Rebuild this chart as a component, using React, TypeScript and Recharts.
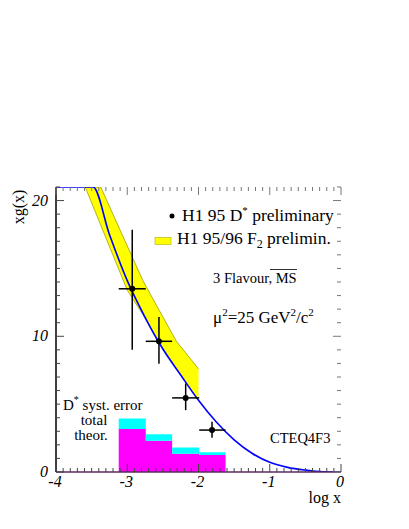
import { ComposedChart, Line, Area, Scatter, ErrorBar, XAxis, YAxis } from 'recharts'

const SERIF = '"Liberation Serif", "DejaVu Serif", serif'

// CTEQ4F3 gluon curve (log x, xg)
const curveLogX = [-4, -3.48, -3.25, -3.0, -2.75, -2.5, -2.25, -2.0, -1.75, -1.5, -1.25, -1.0, -0.75, -0.5, -0.25, 0]
const curveXg = [21, 21, 17.5, 14.1, 11.4, 9.06, 7.15, 5.28, 3.68, 2.37, 1.38, 0.71, 0.34, 0.14, 0.02, 0]

// H1 95/96 F2 band
const bandLogX = [-3.59, -3.373, -3.0, -2.78, -2.55, -2.31, -2.0]
const bandLow = [21, 18.2, 13.4, 11.6, 9.5, 7.6, 5.3]
const bandHigh = [21, 21, 16.66, 14.1, 11.9, 9.63, 7.6]

// D* syst. error histogram
const binEdges = [-3.12, -2.74, -2.37, -1.99, -1.62]
const binTheor = [3.16, 2.3, 1.35, 1.26]
const binTotal = [3.95, 2.79, 1.8, 1.46]

// H1 95 D* points
const pointLogX = [-2.93, -2.555, -2.18, -1.81]
const pointXg = [13.5, 9.63, 5.46, 3.09]
const pointXgLow = [9.0, 7.97, 4.56, 2.52]
const pointXgHigh = [17.85, 11.42, 6.53, 3.7]

const xMajor = [-4, -3, -2, -1, 0]
const yMajor = [0, 10, 20]
const xTicks = Array.from({ length: 41 }, (_, i) => -4 + i / 10)
const yTicks = Array.from({ length: 22 }, (_, i) => i)

const PLOT_TOP = 187
const PLOT_LEFT = 56
const PLOT_RIGHT = 341
const XH = 30
const YW = 40

const curve = curveLogX.map((x, i) => ({ x, y: curveXg[i] }))
const band = bandLogX.map((x, i) => ({ x, r: [bandLow[i], bandHigh[i]] }))
const hist = binEdges.map((x, i) => {
  const k = Math.min(i, binTheor.length - 1)
  return { x, m: binTheor[k], c: [binTheor[k], binTotal[k]] }
})
const points = pointLogX.map((x, i) => ({
  x,
  y: pointXg[i],
  ex: [x - binEdges[i], binEdges[i + 1] - x],
  ey: [pointXg[i] - pointXgLow[i], pointXgHigh[i] - pointXg[i]],
}))

const isMajor = (v: number, majors: number[]) => majors.some(m => Math.abs(m - v) < 1e-6)

function XTick(props: any) {
  const { x, y, payload } = props
  const v = payload.value
  const major = isMajor(v, xMajor)
  const len = major ? 8 : 4
  return (
    <g>
      <line x1={x} x2={x} y1={y} y2={y - len} stroke="#444" strokeWidth={1} />
      <line x1={x} x2={x} y1={PLOT_TOP} y2={PLOT_TOP + len} stroke="#777" strokeWidth={1} />
      {major && (
        <text x={x - 1} y={y + 15} textAnchor="middle" fontFamily={SERIF} fontStyle="italic" fontSize={16} fill="#000">
          {String(Math.round(v))}
        </text>
      )}
    </g>
  )
}

function YTick(props: any) {
  const { x, y, payload } = props
  const v = payload.value
  const major = isMajor(v, yMajor)
  const len = major ? 8 : 4
  return (
    <g>
      <line x1={x} x2={x + len} y1={y} y2={y} stroke="#444" strokeWidth={1} />
      <line x1={PLOT_RIGHT} x2={PLOT_RIGHT - len} y1={y} y2={y} stroke="#777" strokeWidth={1} />
      {major && (
        <text x={x - 8} y={y + 5} textAnchor="end" fontFamily={SERIF} fontStyle="italic" fontSize={16} fill="#000">
          {String(v)}
        </text>
      )}
    </g>
  )
}

function Dot(props: any) {
  return <circle cx={props.cx} cy={props.cy} r={3} fill="#000" />
}

function Labels() {
  const t = { fontFamily: SERIF, fill: '#000' }
  return (
    <svg width={409} height={529} style={{ position: 'absolute', left: 0, top: 0, pointerEvents: 'none' }}>
      <text {...t} fontSize={16} x={24} y={207} transform="rotate(-90 24 207)" textAnchor="middle">xg(x)</text>
      <text {...t} fontSize={16} x={PLOT_RIGHT} y={503} textAnchor="end">log x</text>

      <circle cx={172} cy={216} r={2.5} fill="#000" />
      <text {...t} fontSize={17.5} x={182} y={221}>
        H1 95 D<tspan fontSize={11} dy={-7}>*</tspan><tspan dy={7}> preliminary</tspan>
      </text>
      <rect x={155} y={237.5} width={16} height={7} fill="#ffff00" stroke="#b0b000" strokeWidth={0.6} />
      <text {...t} fontSize={17.5} x={177} y={244}>
        H1 95/96 F<tspan fontSize={12} dy={4}>2</tspan><tspan dy={-4}> prelimin.</tspan>
      </text>

      <text {...t} fontSize={14.5} x={213} y={283}>3 Flavour, MS</text>
      <line x1={270} x2={297} y1={269.5} y2={269.5} stroke="#000" strokeWidth={0.8} />

      <text {...t} fontSize={17} x={213} y={323}>
        μ<tspan fontSize={11} dy={-7}>2</tspan><tspan dy={7}>=25 GeV</tspan><tspan fontSize={11} dy={-7}>2</tspan><tspan dy={7}>/c</tspan><tspan fontSize={11} dy={-7}>2</tspan>
      </text>

      <text {...t} fontSize={14.5} x={270} y={443}>CTEQ4F3</text>

      <text {...t} fontSize={15} x={63} y={410}>
        D<tspan fontSize={10} dy={-7}>*</tspan><tspan dy={7}> syst. error</tspan>
      </text>
      <text {...t} fontSize={15} x={94} y={425} textAnchor="middle">total</text>
      <text {...t} fontSize={15} x={91} y={440} textAnchor="middle">theor.</text>
    </svg>
  )
}

export default function App() {
  return (
    <div style={{ position: 'absolute', left: 0, top: 0, width: 409, height: 529, background: '#fff' }}>
      <ComposedChart
        width={409}
        height={529}
        margin={{ top: PLOT_TOP, right: 409 - PLOT_RIGHT, bottom: 57 - XH, left: PLOT_LEFT - YW }}
      >
        <XAxis
          dataKey="x"
          type="number"
          domain={[-4, 0]}
          ticks={xTicks}
          interval={0}
          allowDataOverflow
          height={XH}
          tickSize={0}
          tickMargin={0}
          tick={<XTick />}
          axisLine={{ stroke: '#5e2a5e', strokeWidth: 1.5 }}
        />
        <XAxis
          xAxisId="top"
          orientation="top"
          dataKey="x"
          type="number"
          domain={[-4, 0]}
          allowDataOverflow
          height={0}
          tick={false}
          tickLine={false}
          axisLine={{ stroke: '#666', strokeWidth: 1 }}
        />
        <YAxis
          type="number"
          domain={[0, 21]}
          ticks={yTicks}
          interval={0}
          allowDataOverflow
          width={YW}
          tickSize={0}
          tickMargin={0}
          tick={<YTick />}
          axisLine={{ stroke: '#000', strokeWidth: 1.5 }}
        />
        <YAxis
          yAxisId="right"
          orientation="right"
          type="number"
          domain={[0, 21]}
          allowDataOverflow
          width={0}
          tick={false}
          tickLine={false}
          axisLine={{ stroke: '#333', strokeWidth: 1.8 }}
        />

        <Area data={hist} dataKey="m" type="stepAfter" stroke="none" fill="#ff00ff" fillOpacity={1} isAnimationActive={false} />
        <Area data={hist} dataKey="c" type="stepAfter" stroke="none" fill="#00ffff" fillOpacity={1} isAnimationActive={false} />
        <Area data={band} dataKey="r" type="linear" stroke="#a0a000" strokeWidth={0.8} fill="#ffff00" fillOpacity={1} isAnimationActive={false} />
        <Line data={curve} dataKey="y" type="monotone" stroke="#0000ff" strokeWidth={1.6} dot={false} isAnimationActive={false} />
        <Scatter data={points} dataKey="y" shape={<Dot />} isAnimationActive={false}>
          <ErrorBar dataKey="ex" direction="x" width={0} stroke="#000" strokeWidth={1.5} />
          <ErrorBar dataKey="ey" direction="y" width={0} stroke="#000" strokeWidth={1.5} />
        </Scatter>
      </ComposedChart>
      <Labels />
    </div>
  )
}
